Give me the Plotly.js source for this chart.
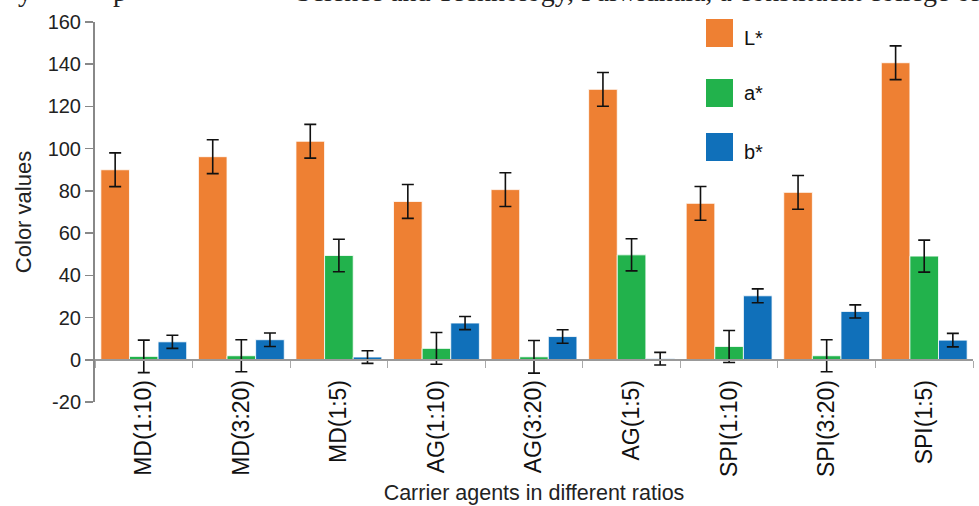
<!DOCTYPE html>
<html>
<head>
<meta charset="utf-8">
<script src="https://cdn.plot.ly/plotly-3.0.1.min.js"></script>
<style>html,body{margin:0;padding:0;background:#fff;}#chart{width:979px;height:506px;}</style>
</head>
<body>
<div id="chart"></div>
<script>
const categories = ["MD(1:10)", "MD(3:20)", "MD(1:5)", "AG(1:10)", "AG(3:20)", "AG(1:5)", "SPI(1:10)", "SPI(3:20)", "SPI(1:5)"];
const seriesNames = ["L*", "a*", "b*"];
const L_values = [90, 96.2, 103.5, 75, 80.6, 128.1, 74.1, 79.3, 140.7];
const L_errors = [8, 8, 8, 8, 8, 8, 8, 8, 8];
const a_values = [1.6, 1.9, 49.4, 5.4, 1.4, 49.7, 6.3, 1.9, 49.1];
const a_errors = [7.7, 7.6, 7.7, 7.5, 7.7, 7.6, 7.6, 7.6, 7.6];
const b_values = [8.5, 9.5, 1.3, 17.4, 11.0, 0.5, 30.3, 22.9, 9.3];
const b_errors = [3.1, 3.2, 3.0, 3.1, 3.2, 3.0, 3.3, 3.1, 3.2];
const yTicks = [-20, 0, 20, 40, 60, 80, 100, 120, 140, 160];

const colors = ["#EE8033", "#22B24C", "#1070BA"];
const vals = [L_values, a_values, b_values];
const errs = [L_errors, a_errors, b_errors];

const traces = seriesNames.map((n, i) => ({
  type: "bar",
  name: n,
  x: categories,
  y: vals[i],
  marker: {color: colors[i], line: {color: "rgba(255,255,255,0.8)", width: 1}},
  error_y: {type: "data", array: errs[i], visible: true, color: "#111", thickness: 1.6, width: 6},
  hoverinfo: "none"
}));

const FONT = "Liberation Sans, Arial, sans-serif";
const SERIF = "Liberation Serif, Times New Roman, serif";
const L = 95, R = 6, T = 22, B = 104, W = 979, H = 506;
const pw = W - L - R, ph = H - T - B;
const px = x => (x - L) / pw;
const py = y => 1 - (y - T) / ph;

const legendY = [33, 93, 147];
const shapes = [];
const annotations = [];
seriesNames.forEach((n, i) => {
  shapes.push({type: "rect", xref: "paper", yref: "paper",
    x0: px(706), x1: px(733), y0: py(legendY[i] + 14), y1: py(legendY[i] - 14),
    fillcolor: colors[i], line: {width: 0}});
  annotations.push({xref: "paper", yref: "paper", x: px(742), y: py(legendY[i] + [5, 0, 5][i]),
    xanchor: "left", yanchor: "middle", text: n, showarrow: false,
    font: {family: FONT, size: 20, color: "#111"}});
});
const topY = py(-9);
annotations.push({xref: "paper", yref: "paper", x: px(294), y: topY, xanchor: "left", yanchor: "middle",
  text: "Science and Technology, Palwidhala, a constituent college of", showarrow: false,
  font: {family: SERIF, size: 28, color: "#222"}});
annotations.push({xref: "paper", yref: "paper", x: px(16), y: topY, xanchor: "left", yanchor: "middle",
  text: "y", showarrow: false, font: {family: SERIF, size: 28, color: "#222"}});
annotations.push({xref: "paper", yref: "paper", x: px(111), y: topY, xanchor: "left", yanchor: "middle",
  text: "p", showarrow: false, font: {family: SERIF, size: 28, color: "#222"}});

const layout = {
  width: W, height: H,
  margin: {l: L, r: R, t: T, b: B, pad: 0},
  paper_bgcolor: "#fff", plot_bgcolor: "#fff",
  showlegend: false,
  barmode: "group", bargap: 0.12, bargroupgap: 0,
  font: {family: FONT, color: "#222"},
  xaxis: {
    type: "category", anchor: "free", position: 20 / 180,
    showline: true, linecolor: "#999", linewidth: 2,
    ticks: "outside", tickson: "boundaries", ticklen: 7, tickcolor: "#aaa", tickwidth: 1,
    ticklabelstandoff: 10,
    tickangle: -90, tickfont: {family: FONT, size: 23, color: "#111"},
    showgrid: false, zeroline: false,
    title: {text: "Carrier agents in different ratios", font: {family: FONT, size: 21.5, color: "#222"}, standoff: 8}
  },
  yaxis: {
    range: [-20, 160], tickvals: yTicks, ticktext: yTicks.map(String),
    showline: true, linecolor: "#888", linewidth: 2,
    ticks: "outside", ticklen: 8, tickcolor: "#888", tickwidth: 1.5,
    tickfont: {family: FONT, size: 20, color: "#222"},
    showgrid: false, zeroline: false,
    title: {text: "Color values", font: {family: FONT, size: 22, color: "#222"}, standoff: 10}
  },
  shapes: shapes,
  annotations: annotations
};

Plotly.newPlot("chart", traces, layout, {displayModeBar: false, staticPlot: true});
</script>
</body>
</html>
